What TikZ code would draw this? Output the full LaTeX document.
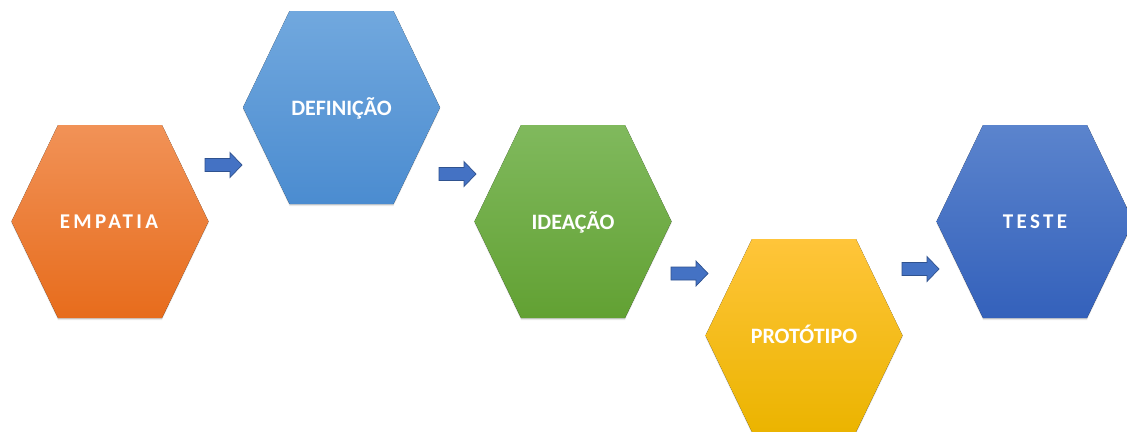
\documentclass[tikz,border=0pt]{standalone}
\usepackage{fontspec}
\setmainfont{Carlito}
\usetikzlibrary{shadows}

% palette
\definecolor{orangeTop}{HTML}{F19257}
\definecolor{orangeBot}{HTML}{E76C1C}
\definecolor{skyTop}{HTML}{71A8DE}
\definecolor{skyBot}{HTML}{4B8CD0}
\definecolor{greenTop}{HTML}{80B95D}
\definecolor{greenBot}{HTML}{62A133}
\definecolor{goldTop}{HTML}{FFC53A}
\definecolor{goldBot}{HTML}{EBB400}
\definecolor{navyTop}{HTML}{5B84CD}
\definecolor{navyBot}{HTML}{3461BB}
\definecolor{arrowFill}{HTML}{4472C4}
\definecolor{arrowEdge}{HTML}{2F528F}

\tikzset{
  hexcell/.style 2 args={top color=#1, bottom color=#2, draw=none,
    drop shadow={opacity=0.18, shadow xshift=0pt, shadow yshift=-2pt}},
  hexlabel/.style={text=white, anchor=base, inner sep=0pt,
    font=\bfseries\fontsize{22}{24}\selectfont},
  hexspaced/.style={hexlabel,
    font=\bfseries\fontsize{21}{24}\selectfont\addfontfeature{LetterSpace=16}},
  blockarrow/.style={fill=arrowFill, draw=arrowEdge, line width=0.7pt, line join=miter},
  pics/rightarrow/.style={code={
    \path[blockarrow] (0,-6.5) -- (25,-6.5) -- (25,-12.5) -- (37,0)
      -- (25,12.5) -- (25,6.5) -- (0,6.5) -- cycle;}}
}

% hexagon outline around a centre point
\newcommand\hexpath{(-98.5,0) -- (-52,-96.5) -- (52,-96.5) -- (98.5,0) -- (52,96.5) -- (-52,96.5) -- cycle}

\begin{document}
\begin{tikzpicture}[x=1pt,y=-1pt]
\useasboundingbox (0,0) rectangle (1127,431);
\fill[white] (0,0) rectangle (1127,431);
\clip (0,0) rectangle (1127,431);

% stage centres
\coordinate (c1) at (110,221.5);
\coordinate (c2) at (341.5,107.5);
\coordinate (c3) at (573,221.5);
\coordinate (c4) at (804,335.5);
\coordinate (c5) at (1035,221.5);

% hexagon bodies
\fill[hexcell={orangeTop}{orangeBot}, shift={(c1)}] \hexpath;
\fill[hexcell={skyTop}{skyBot}, shift={(c2)}] \hexpath;
\fill[hexcell={greenTop}{greenBot}, shift={(c3)}] \hexpath;
\fill[hexcell={goldTop}{goldBot}, shift={(c4)}] \hexpath;
\fill[hexcell={navyTop}{navyBot}, shift={(c5)}] \hexpath;

% stage names
\node[hexspaced] (empatia) at ([xshift=-1pt,yshift=-7pt]c1) {EMPATIA};
\node[hexlabel] (definicao) at ([yshift=-7.5pt]c2) {DEFINIÇÃO};
\node[hexlabel] (ideacao) at ([yshift=-7.5pt]c3) {IDEAÇÃO};
\node[hexlabel] (prototipo) at ([yshift=-7.5pt]c4) {PROTÓTIPO};
\node[hexspaced] (teste) at ([yshift=-7pt]c5) {TESTE};

% block arrows between the stages
\pic (a1) at (205,165) {rightarrow};
\pic (a2) at (439,174) {rightarrow};
\pic (a3) at (671,273.5) {rightarrow};
\pic (a4) at (902,269) {rightarrow};
\end{tikzpicture}
\end{document}
